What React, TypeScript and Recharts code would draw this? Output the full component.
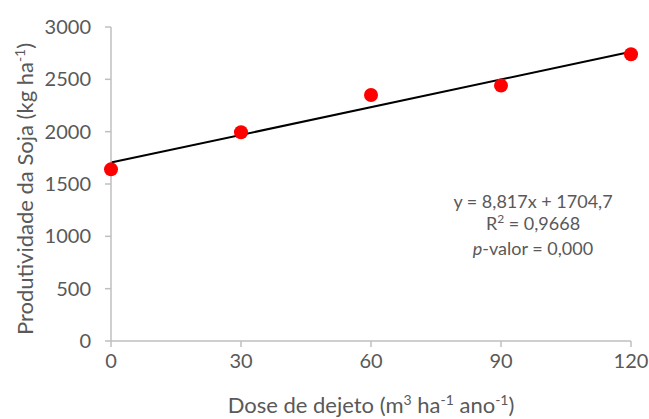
import React from 'react';
import {
  ComposedChart,
  Scatter,
  Line,
  XAxis,
  YAxis,
  Label,
} from 'recharts';

// observed soybean yield per manure dose
const doses = [0, 30, 60, 90, 120];
const yields = [1640, 1995, 2350, 2440, 2740];

// fitted linear trend: y = slope * x + intercept
const slope = 8.817;
const intercept = 1704.7;

const xTicks = [0, 30, 60, 90, 120];
const yTicks = [0, 500, 1000, 1500, 2000, 2500, 3000];

const FONT = 'Lato, "Open Sans", sans-serif';
const AXIS_GREY = '#bfbfbf';
const TEXT_GREY = '#595959';

const points = doses.map((d, i) => ({ x: d, y: yields[i] }));
const trend = [doses[0], doses[doses.length - 1]].map((d) => ({
  x: d,
  fit: slope * d + intercept,
}));

const XTitle = ({ viewBox }: any) => {
  const cx = viewBox.x + viewBox.width / 2;
  const y = viewBox.y + 72;
  return (
    <text x={cx} y={y} textAnchor="middle" fill={TEXT_GREY} fontSize={22} fontFamily={FONT}>
      <tspan>Dose de dejeto (m</tspan>
      <tspan fontSize={14} dy={-8}>3</tspan>
      <tspan dy={8}> ha</tspan>
      <tspan fontSize={14} dy={-8}>-1</tspan>
      <tspan dy={8}> ano</tspan>
      <tspan fontSize={14} dy={-8}>-1</tspan>
      <tspan dy={8}>)</tspan>
    </text>
  );
};

const YTitle = ({ viewBox }: any) => {
  const cy = viewBox.y + viewBox.height / 2 + 5;
  const x = 33;
  return (
    <text
      x={x}
      y={cy}
      transform={`rotate(-90 ${x} ${cy})`}
      textAnchor="middle"
      fill={TEXT_GREY}
      fontSize={22}
      fontFamily={FONT}
    >
      <tspan>Produtividade da Soja (kg ha</tspan>
      <tspan fontSize={14} dy={-8}>-1</tspan>
      <tspan dy={8}>)</tspan>
    </text>
  );
};

const Equation = () => {
  const cx = 533;
  return (
    <g fill={TEXT_GREY} fontSize={18} fontFamily={FONT} textAnchor="middle">
      <text x={cx} y={208}>y = 8,817x + 1704,7</text>
      <text x={cx} y={230}>
        <tspan>R</tspan>
        <tspan fontSize={12} dy={-7}>2</tspan>
        <tspan dy={7}> = 0,9668</tspan>
      </text>
      <text x={cx} y={255}>
        <tspan fontStyle="italic">p</tspan>
        <tspan>-valor = 0,000</tspan>
      </text>
    </g>
  );
};

export default function App() {
  return (
    <div style={{ position: 'absolute', left: 0, top: 0, background: '#fff' }}>
      <ComposedChart
        width={649}
        height={419}
        margin={{ top: 27, right: 18, bottom: 28, left: 40 }}
      >
        <XAxis
          type="number"
          dataKey="x"
          domain={[0, 120]}
          ticks={xTicks}
          allowDuplicatedCategory={false}
          stroke={AXIS_GREY}
          strokeWidth={1.5}
          tickSize={6}
          tick={{ fill: TEXT_GREY, fontSize: 20, fontFamily: FONT, dy: 5 }}
          height={50}
        >
          <Label content={<XTitle />} />
        </XAxis>
        <YAxis
          type="number"
          domain={[0, 3000]}
          ticks={yTicks}
          stroke={AXIS_GREY}
          strokeWidth={1.5}
          tickSize={6}
          tick={{ fill: TEXT_GREY, fontSize: 20, fontFamily: FONT, dx: -12 }}
          width={71}
        >
          <Label content={<YTitle />} />
        </YAxis>
        <Line
          data={trend}
          dataKey="fit"
          type="linear"
          stroke="#000"
          strokeWidth={2}
          dot={false}
          activeDot={false}
          isAnimationActive={false}
        />
        <Scatter
          data={points}
          dataKey="y"
          fill="#ff0000"
          shape={(p: any) => <circle cx={p.cx} cy={p.cy} r={7} fill="#ff0000" />}
          isAnimationActive={false}
        />
        <Label content={<Equation />} />
      </ComposedChart>
    </div>
  );
}
